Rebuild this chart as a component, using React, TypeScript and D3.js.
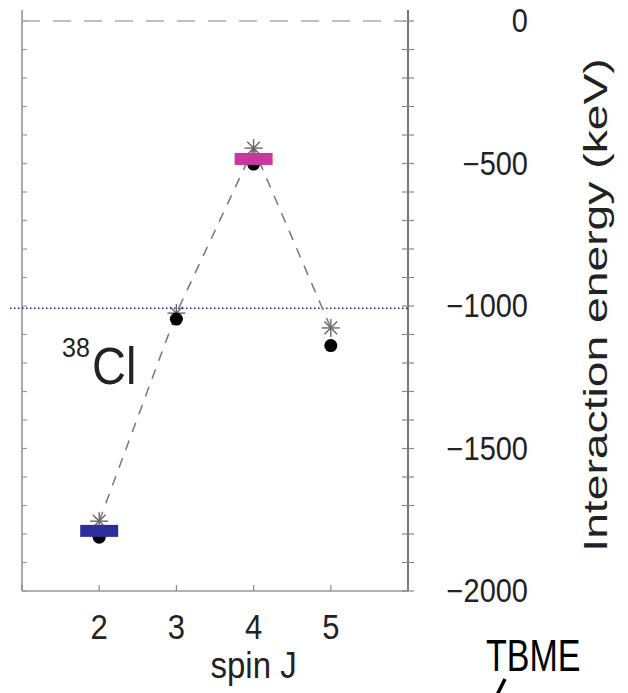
import React, { useEffect, useRef } from 'react'
import * as d3 from 'd3'

// spin values and interaction energies (keV)
const spins = [2, 3, 4, 5]
const calcEnergy = [-1755, -1025, -446, -1077]   // asterisks, joined by dashed line
const exptEnergy = [-1811, -1046, -502, -1139]   // filled circles
const barSpins = [2, 4]
const barEnergy = [-1789, -484]
const barColors = ['#2e2e9a', '#c8379f']
const yTicks = [0, -500, -1000, -1500, -2000]
const refLevel = -1008

const W = 628
const H = 693
const FONT = 'Liberation Sans, Arial, Helvetica, sans-serif'

const App = () => {
  const svgRef = useRef<SVGSVGElement>(null)

  useEffect(() => {
    const svg = d3.select(svgRef.current)
    svg.selectAll('*').remove()

    const x = d3.scaleLinear().domain([1, 6]).range([22, 408])
    const y = d3.scaleLinear().domain([0, -2000]).range([21, 591])
    const top = 10

    const g = svg.append('g')

    // frame
    g.append('line').attr('x1', x(1)).attr('x2', x(1)).attr('y1', top).attr('y2', y(-2000))
      .attr('stroke', '#aaa').attr('stroke-width', 2)
    g.append('line').attr('x1', x(6)).attr('x2', x(6)).attr('y1', top).attr('y2', y(-2000))
      .attr('stroke', '#777').attr('stroke-width', 2)
    g.append('line').attr('x1', x(1)).attr('x2', x(6)).attr('y1', y(-2000)).attr('y2', y(-2000))
      .attr('stroke', '#999').attr('stroke-width', 1.5)

    const minor = d3.range(0, -2001, -100)
    g.selectAll('.lt').data(minor).enter().append('line')
      .attr('x1', x(1)).attr('x2', x(1) + 5)
      .attr('y1', d => y(d)).attr('y2', d => y(d))
      .attr('stroke', '#999').attr('stroke-width', 1.2)
    g.selectAll('.rt').data(minor).enter().append('line')
      .attr('x1', x(6) - 6).attr('x2', x(6) + 6)
      .attr('y1', d => y(d)).attr('y2', d => y(d))
      .attr('stroke', '#888').attr('stroke-width', 1.2)
    g.selectAll('.bt').data([1, 2, 3, 4, 5, 6]).enter().append('line')
      .attr('x1', d => x(d)).attr('x2', d => x(d))
      .attr('y1', y(-2000)).attr('y2', y(-2000) - 6)
      .attr('stroke', '#888').attr('stroke-width', 1.2)

    const stretched = (tx: number, ty: number, s: string, size: number, k: number,
      anchor = 'middle', rot = 0, fill = '#222') => {
      g.append('text')
        .attr('transform', `translate(${tx},${ty}) rotate(${rot}) scale(${rot ? k : 1},${rot ? 1 : k})`)
        .attr('text-anchor', anchor)
        .attr('font-family', FONT)
        .attr('font-size', size)
        .attr('fill', fill)
        .text(s)
    }

    // tick labels
    yTicks.forEach(t => stretched(528, y(t) + 11, t === 0 ? '0' : '\u2212' + Math.abs(t), 29, 1.12, 'end'))
    spins.forEach(s => stretched(x(s), 639, String(s), 31, 1.15))
    stretched(x(4), 678, 'spin J', 33, 1.12)
    stretched(607, 305, 'Interaction energy (keV)', 34, 1.36, 'middle', -90)

    // zero line and reference level
    g.append('line').attr('x1', x(1)).attr('x2', x(6)).attr('y1', y(0)).attr('y2', y(0))
      .attr('stroke', '#aaa').attr('stroke-width', 1.5).attr('stroke-dasharray', '18 13')
    g.append('line').attr('x1', 10).attr('x2', x(6)).attr('y1', y(refLevel)).attr('y2', y(refLevel))
      .attr('stroke', '#1c1ca0').attr('stroke-width', 1.5).attr('stroke-dasharray', '1.5 2.5')

    // calculated values
    const pts = spins.map((s, i) => [x(s), y(calcEnergy[i])] as [number, number])
    g.append('path').attr('d', d3.line()(pts)).attr('fill', 'none')
      .attr('stroke', '#777').attr('stroke-width', 1.5).attr('stroke-dasharray', '10 9')
    pts.forEach(([px, py]) => {
      d3.range(4).forEach(k => {
        const a = (k * Math.PI) / 4
        g.append('line')
          .attr('x1', px - 9 * Math.cos(a)).attr('x2', px + 9 * Math.cos(a))
          .attr('y1', py - 9 * Math.sin(a)).attr('y2', py + 9 * Math.sin(a))
          .attr('stroke', '#666').attr('stroke-width', 1.4)
      })
    })

    // experimental values
    g.selectAll('.dot').data(spins).enter().append('circle')
      .attr('cx', d => x(d)).attr('cy', (d, i) => y(exptEnergy[i])).attr('r', 6.5)
      .attr('fill', '#000')

    // bars
    g.selectAll('.bar').data(barSpins).enter().append('rect')
      .attr('x', d => x(d) - 19).attr('y', (d, i) => y(barEnergy[i]) - 6)
      .attr('width', 38).attr('height', 12)
      .attr('fill', (d, i) => barColors[i])

    // nucleus label
    stretched(62, 357, '38', 25, 1.1, 'start')
    stretched(92, 384, 'Cl', 47, 1.1, 'start')

    // TBME label and arrow stub
    stretched(486, 671, 'TBME', 34, 1.3, 'start', 0, '#000')
    g.append('line').attr('x1', 505).attr('y1', 679).attr('x2', 497).attr('y2', 695)
      .attr('stroke', '#000').attr('stroke-width', 3.5)
  }, [])

  return (
    <svg ref={svgRef} width={W} height={H}
      style={{ position: 'absolute', left: 0, top: 0, background: '#fff' }} />
  )
}

export default App
